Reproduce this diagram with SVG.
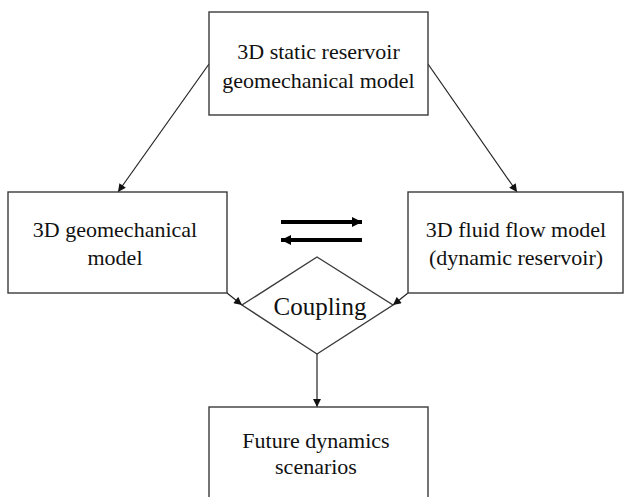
<svg xmlns="http://www.w3.org/2000/svg" width="625" height="497" viewBox="0 0 625 497">
  <style>
    .box { fill: #ffffff; stroke: #3a3a3a; stroke-width: 1.4; }
    .lbl { font-family: "Liberation Serif", "Times New Roman", serif; font-size: 22px; fill: #111111; text-anchor: middle; }
    .big { font-size: 25px; }
    .edge { fill: none; stroke: #222222; stroke-width: 1.2; }
    .thick { fill: none; stroke: #000000; stroke-width: 4; }
  </style>
  <defs>
    <marker id="tip" viewBox="0 0 10 10" refX="10" refY="5" markerUnits="userSpaceOnUse" markerWidth="9" markerHeight="8" orient="auto">
      <path d="M0,0 L10,5 L0,10 Z" fill="#111111"/>
    </marker>
    <marker id="bold" viewBox="0 0 10 10" refX="10" refY="5" markerUnits="userSpaceOnUse" markerWidth="10" markerHeight="11" orient="auto">
      <path d="M0,0 L10,5 L0,10 Z" fill="#000000"/>
    </marker>
  </defs>
  <rect width="625" height="497" fill="#ffffff"/>

  <g id="connectors">
    <line class="edge" x1="209" y1="64" x2="118" y2="192" marker-end="url(#tip)"/>
    <line class="edge" x1="428" y1="64" x2="517" y2="192" marker-end="url(#tip)"/>
    <line class="edge" x1="227" y1="293" x2="242" y2="305" marker-end="url(#tip)"/>
    <line class="edge" x1="408" y1="293" x2="393" y2="305" marker-end="url(#tip)"/>
    <line class="edge" x1="317" y1="354" x2="317" y2="407" marker-end="url(#tip)"/>
    <line class="thick" x1="281" y1="222" x2="362" y2="222" marker-end="url(#bold)"/>
    <line class="thick" x1="362" y1="240" x2="281" y2="240" marker-end="url(#bold)"/>
  </g>

  <g id="static-model">
    <rect class="box" x="209" y="12" width="219" height="103"/>
    <text class="lbl" x="318.5" y="59">3D static reservoir</text>
    <text class="lbl" x="318.5" y="88">geomechanical model</text>
  </g>

  <g id="geomechanical-model">
    <rect class="box" x="8" y="192" width="219" height="101"/>
    <text class="lbl" x="115" y="237">3D geomechanical</text>
    <text class="lbl" x="115" y="265">model</text>
  </g>

  <g id="fluid-flow-model">
    <rect class="box" x="408" y="192" width="215" height="101"/>
    <text class="lbl" x="516" y="237">3D fluid flow model</text>
    <text class="lbl" x="516" y="265">(dynamic reservoir)</text>
  </g>

  <g id="coupling">
    <polygon class="box" points="317,257 393,305 317,354 242,305"/>
    <text class="lbl big" x="320" y="315">Coupling</text>
  </g>

  <g id="future-scenarios">
    <rect class="box" x="209" y="407" width="219" height="110"/>
    <text class="lbl" x="316" y="448">Future dynamics</text>
    <text class="lbl" x="316" y="474">scenarios</text>
  </g>
</svg>
